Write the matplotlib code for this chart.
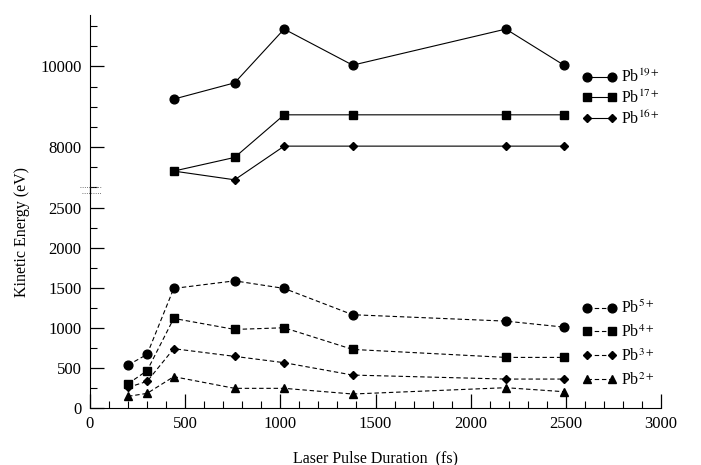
import matplotlib
matplotlib.use("Agg")
import matplotlib.pyplot as plt
from matplotlib.lines import Line2D
from matplotlib.ticker import MultipleLocator

plt.rcParams['font.family'] = ['Liberation Serif', 'DejaVu Serif']
plt.rcParams['mathtext.fontset'] = 'stix'

# laser pulse duration (fs)
dur_low = [200, 300, 440, 760, 1020, 1380, 2185, 2490]
dur_high = [440, 760, 1020, 1380, 2185, 2490]

# kinetic energies (eV), low charge states
pb2 = [146, 183, 392, 246, 246, 175, 254, 204]
pb3 = [258, 333, 742, 646, 567, 412, 362, 362]
pb4 = [304, 467, 1121, 983, 1004, 733, 633, 633]
pb5 = [537, 671, 1496, 1591, 1496, 1167, 1087, 1012]

# high charge states
pb16 = [7396, 7179, 8017, 8017, 8017, 8017]
pb17 = [7396, 7736, 8796, 8796, 8796, 8796]
pb19 = [9187, 9592, 10930, 10032, 10930, 10032]

W, H = 701, 465
fig = plt.figure(figsize=(W / 100, H / 100), dpi=100)

def px_box(x0, y_top, x1, y_bot):
    return [x0 / W, 1 - y_bot / H, (x1 - x0) / W, (y_bot - y_top) / H]

ax_lo = fig.add_axes(px_box(90, 193, 661, 408))
ax_hi = fig.add_axes(px_box(90, 15, 661, 187), sharex=ax_lo)

fs = 12
kw_tick = dict(direction='in', labelsize=fs)

# lower panel
dash = dict(color='black', lw=0.8, dashes=(4, 2.5))
ax_lo.plot(dur_low, pb5, marker='o', ms=6.3, label='Pb$^{5+}$', **dash)
ax_lo.plot(dur_low, pb4, marker='s', ms=5.3, label='Pb$^{4+}$', **dash)
ax_lo.plot(dur_low, pb3, marker='D', ms=4.2, label='Pb$^{3+}$', **dash)
ax_lo.plot(dur_low, pb2, marker='^', ms=6.0, label='Pb$^{2+}$', **dash)
ax_lo.set_xlim(0, 3000)
ax_lo.set_ylim(0, 2690)
ax_lo.xaxis.set_major_locator(MultipleLocator(500))
ax_lo.xaxis.set_minor_locator(MultipleLocator(100))
ax_lo.yaxis.set_major_locator(MultipleLocator(500))
ax_lo.yaxis.set_minor_locator(MultipleLocator(250))
ax_lo.tick_params(which='major', length=10, width=0.9, pad=6, **kw_tick)
ax_lo.tick_params(which='minor', length=5, width=0.8, direction='in')
for s in ['top', 'right']:
    ax_lo.spines[s].set_visible(False)
ax_lo.set_xlabel('Laser Pulse Duration  (fs)', fontsize=11.5, labelpad=13)

# upper panel
solid = dict(color='black', lw=0.8)
ax_hi.plot(dur_high, pb19, marker='o', ms=6.3, label='Pb$^{19+}$', **solid)
ax_hi.plot(dur_high, pb17, marker='s', ms=5.3, label='Pb$^{17+}$', **solid)
ax_hi.plot(dur_high, pb16, marker='D', ms=4.2, label='Pb$^{16+}$', **solid)
ax_hi.set_ylim(7000, 11280)
ax_hi.yaxis.set_major_locator(MultipleLocator(2000))
ax_hi.yaxis.set_minor_locator(MultipleLocator(500))
ax_hi.tick_params(which='major', length=10, width=0.9, pad=6, **kw_tick)
ax_hi.tick_params(which='minor', length=5, width=0.8, direction='in')
ax_hi.tick_params(axis='x', which='both', bottom=False, labelbottom=False)
for s in ['top', 'right', 'bottom']:
    ax_hi.spines[s].set_visible(False)
for a in (ax_lo, ax_hi):
    a.patch.set_visible(False)

leg_kw = dict(frameon=False, numpoints=2, fontsize=11.5, handlelength=2.15,
              handletextpad=0.3, borderpad=0, borderaxespad=0, loc='upper left')
ax_hi.legend(bbox_to_anchor=(582 / W, 1 - 69 / H), bbox_transform=fig.transFigure,
             labelspacing=0.2, **leg_kw)
ax_lo.legend(bbox_to_anchor=(582 / W, 1 - 300 / H), bbox_transform=fig.transFigure,
             labelspacing=0.45, **leg_kw)

# continuous spine through the gap and axis break marks
fig.add_artist(Line2D([90 / W, 90 / W], [1 - 187 / H, 1 - 193 / H], color='black', lw=0.9))
fig.add_artist(Line2D([80 / W, 101 / W], [1 - 187 / H, 1 - 187 / H], color='0.3', lw=0.6, ls=':'))
fig.add_artist(Line2D([82 / W, 101 / W], [1 - 193 / H, 1 - 193 / H], color='0.3', lw=0.6, ls=':'))

fig.text(22 / W, 1 - 232 / H, 'Kinetic Energy (eV)', rotation=90, fontsize=11.5,
         ha='center', va='center')

fig.savefig('out.png', dpi=100)
